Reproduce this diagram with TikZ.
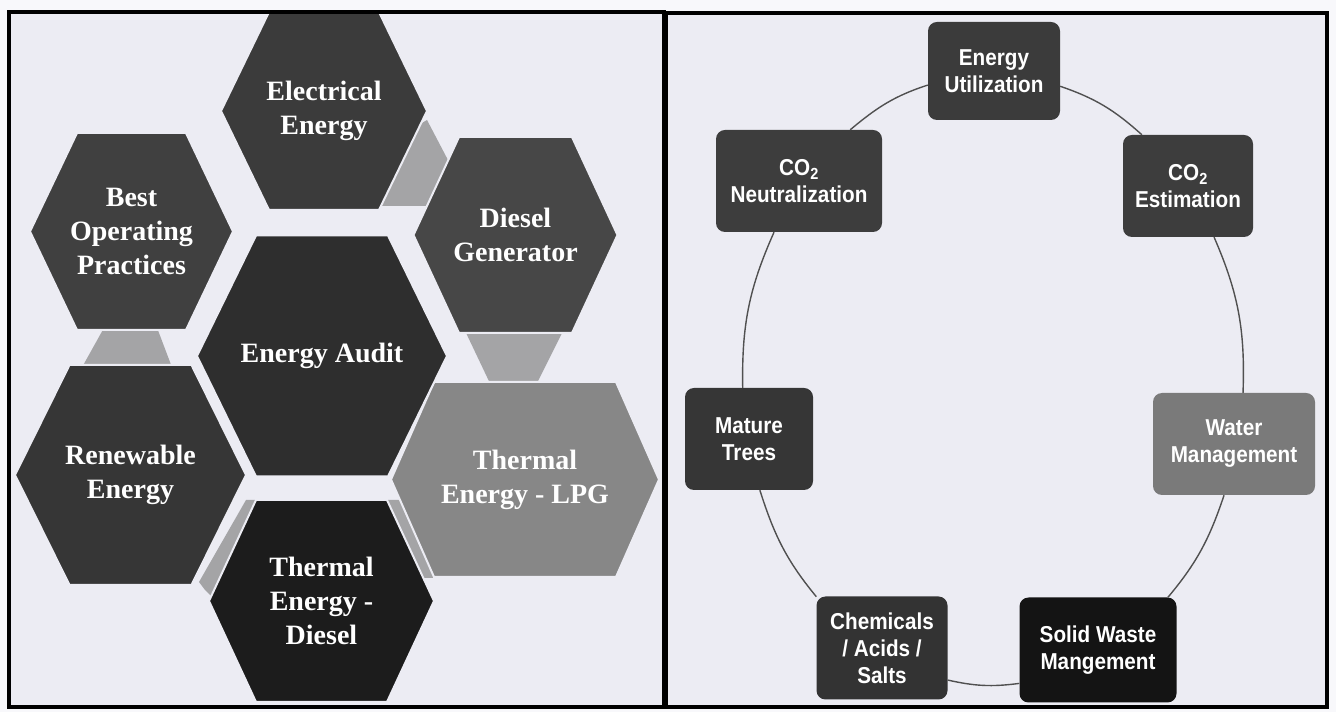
\documentclass[tikz,border=0pt]{standalone}
\usepackage{fontspec}
\setmainfont{Liberation Serif}
\newfontfamily\boxsans[FakeStretch=0.9]{Liberation Sans}
\usetikzlibrary{calc}
\definecolor{paper}{HTML}{F8F8FB}
\definecolor{panel}{HTML}{ECECF3}
\definecolor{bridgegray}{HTML}{A4A4A6}
\definecolor{ringgray}{HTML}{505050}
\newcommand\hexfont{\fontsize{28}{34}\selectfont\bfseries}
\newcommand\boxtext{\boxsans\bfseries\fontsize{23}{27}\selectfont}
% #1 centre coordinate, #2 half width, #3 half top edge, #4 half height, #5 fill
\newcommand\hexshape[5]{%
  \filldraw[fill=#5, draw=panel, line width=2pt]
    ($(#1)+(#2,0)$) -- ($(#1)+(#3,#4)$) -- ($(#1)+(-#3,#4)$) --
    ($(#1)+(-#2,0)$) -- ($(#1)+(-#3,-#4)$) -- ($(#1)+(#3,-#4)$) -- cycle;}
\tikzset{
  hexlabel/.style={text=white, font=\hexfont, align=center, inner sep=0pt},
  cyclebox/.style={rounded corners=9pt, text=white, font=\boxtext, align=center,
                   inner sep=0pt, draw=none},
  ringline/.style={draw=ringgray, line width=1.4pt},
  bridge/.style={fill=bridgegray},
  frameline/.style={draw=black, line width=4pt}
}
\begin{document}
\begin{tikzpicture}[x=1pt,y=1pt]
\useasboundingbox (0,0) rectangle (1336,712);
\fill[paper] (0,0) rectangle (1336,712);
\fill[panel] (9,5) rectangle (664,700);
\fill[panel] (666,5) rectangle (1327,699);

% ---------- left panel: hexagon cluster ----------
\coordinate (cee)  at (324,601);
\coordinate (cbop) at (131.5,480.5);
\coordinate (cdg)  at (515.5,477);
\coordinate (cea)  at (322,356);
\coordinate (cren) at (130.5,237);
\coordinate (clpg) at (525,232.5);
\coordinate (ctd)  at (321.5,111);

% grey bridges behind the hexagons
\fill[bridge] (410,582) -- (427,592) -- (449,550) -- (426,506) -- (380,506) -- (370,522) -- cycle;
\fill[bridge] (105.6,387) -- (156,387) -- (173,342) -- (80.5,342) -- cycle;
\fill[bridge] (463.7,384) -- (564.5,384) -- (536,327) -- (490.8,327) -- cycle;
\fill[bridge] (246,212) -- (265,212) -- (215,112) -- (205,122) -- (199,130) -- cycle;
\fill[bridge] (386,212) -- (402,212) -- (440,134) -- (420,134) -- cycle;

\hexshape{cee}{103}{55}{99}{black!77}
\hexshape{cbop}{101.5}{54.5}{98.5}{black!75}
\hexshape{cdg}{102}{56.5}{98}{black!72}
\hexshape{clpg}{134}{91}{97.5}{black!47}
\hexshape{cea}{125}{66}{120.5}{black!82}
\hexshape{cren}{115.5}{61}{110}{black!79}
\hexshape{ctd}{112.5}{65.5}{101}{black!89}

\node[hexlabel] (ee)  at (cee)  {Electrical\\Energy};
\node[hexlabel] (bop) at (cbop) {Best\\Operating\\Practices};
\node[hexlabel] (dg)  at (cdg)  {Diesel\\Generator};
\node[hexlabel] (ea)  at (cea)  {Energy Audit};
\node[hexlabel] (ren) at (cren) {Renewable\\Energy};
\node[hexlabel] (lpg) at (clpg) {Thermal\\Energy - LPG};
\node[hexlabel] (td)  at (ctd)  {Thermal\\Energy -\\Diesel};

% ---------- right panel: cycle ----------
\node[cyclebox, fill=black!77, minimum width=132pt, minimum height=98pt]  (eu)    at (994,641)  {Energy\\Utilization};
\node[cyclebox, fill=black!76, minimum width=130pt, minimum height=102pt] (co2e)  at (1188,526) {CO\textsubscript{2}\\Estimation};
\node[cyclebox, fill=black!52, minimum width=162pt, minimum height=102pt] (water) at (1234,268) {Water\\Management};
\node[cyclebox, fill=black!92, minimum width=157pt, minimum height=105pt] (solid) at (1098,62)  {Solid Waste\\Mangement};
\node[cyclebox, fill=black!80, minimum width=131pt, minimum height=103pt] (chem)  at (882,64)   {Chemicals\\/ Acids /\\Salts};
\node[cyclebox, fill=black!79, minimum width=128pt, minimum height=102pt] (trees) at (749,273)  {Mature\\Trees};
\node[cyclebox, fill=black!76, minimum width=166pt, minimum height=102pt] (co2n)  at (799,531)  {CO\textsubscript{2}\\Neutralization};

\draw[ringline] (eu.-13)    to[out=-19,   in=138]   (co2e.132);
\draw[ringline] (co2e.-63)  to[out=-66.5, in=88]    (water.80);
\draw[ringline] (water.-101) to[out=-108.5, in=50]  (solid.37);
\draw[ringline] (solid.-157) to[out=-172.6, in=-12.7] (chem.-26);
\draw[ringline] (chem.142)  to[out=129.5, in=-72.4] (trees.-78);
\draw[ringline] (trees.97)  to[out=91,    in=-114]  (co2n.-116);
\draw[ringline] (co2n.45)   to[out=40,    in=198]   (eu.192);

% ---------- frames ----------
\draw[frameline] (9,5) rectangle (664,700);
\draw[frameline] (666,5) rectangle (1327,699);
\end{tikzpicture}
\end{document}
